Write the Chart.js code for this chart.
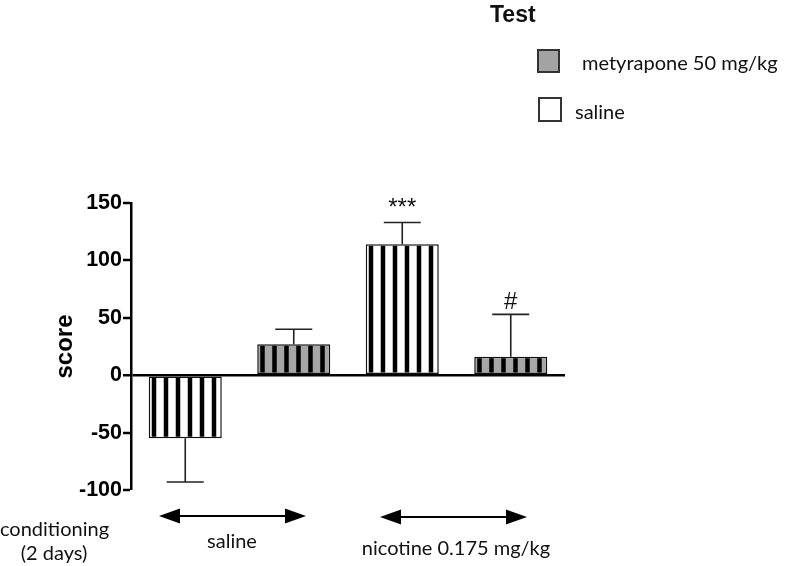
<!DOCTYPE html>
<html>
<head>
<meta charset="utf-8">
<script src="https://cdn.jsdelivr.net/npm/chart.js@4.4.1/dist/chart.umd.min.js"></script>
<style>
  html, body { margin: 0; padding: 0; background: #fff; }
  #wrap { position: relative; width: 799px; height: 566px; overflow: hidden; }
  #chart { position: absolute; left: 0; top: 0; }
  .txt { position: absolute; font-family: Lato, "Open Sans", sans-serif; font-size: 20px; color: #111; white-space: nowrap; line-height: 24px; }
  .title { position: absolute; font-family: "Liberation Sans", Arial, sans-serif; font-weight: bold; font-size: 23px; color: #111; line-height: 26px; }
  .box { position: absolute; box-sizing: border-box; border: 2px solid #333; }
  svg { position: absolute; left: 0; top: 0; }
</style>
</head>
<body>
<div id="wrap">
  <canvas id="chart" width="799" height="566"></canvas>

  <div class="title" style="left:490px;top:1px">Test</div>
  <div class="box" style="left:537px;top:49px;width:23px;height:24px;background:#a3a3a3"></div>
  <div class="txt" style="left:582px;top:50px">metyrapone 50 mg/kg</div>
  <div class="box" style="left:538px;top:97px;width:24px;height:25px;background:#fff"></div>
  <div class="txt" style="left:575px;top:99px">saline</div>

  <svg width="799" height="566">
    <g fill="#000" stroke="#000">
      <line x1="175" y1="516" x2="290" y2="516" stroke-width="2"/>
      <polygon points="159,516 180,508.5 180,523.5" stroke="none"/>
      <polygon points="306,516 285,508.5 285,523.5" stroke="none"/>
      <line x1="396" y1="517" x2="511" y2="517" stroke-width="2"/>
      <polygon points="380,517 401,509.5 401,524.5" stroke="none"/>
      <polygon points="527,517 506,509.5 506,524.5" stroke="none"/>
    </g>
  </svg>
  <div class="txt" style="left:0;top:516px;width:108px;text-align:center">conditioning<br>(2 days)</div>
  <div class="txt" style="left:182px;top:528px;width:100px;text-align:center">saline</div>
  <div class="txt" style="left:356px;top:535px;width:200px;text-align:center">nicotine 0.175 mg/kg</div>
</div>

<script>
// groups: conditioning / test treatment
const groups = ['saline / saline', 'saline / metyrapone', 'nicotine / saline', 'nicotine / metyrapone'];
const salineScores = [-55, null, 114, null];
const salineErrors = [38, null, 19, null];
const metyraponeScores = [null, 27, null, 16];
const metyraponeErrors = [null, 13, null, 37];
const marks = ['', '', '***', '#'];
const yTicks = [-100, -50, 0, 50, 100, 150];

const axisFont = { family: '"Liberation Sans", Arial, sans-serif', weight: 'bold' };

// vertical black stripes inside each bar
const stripes = {
  id: 'stripes',
  afterDatasetDraw(chart, args) {
    const ctx = chart.ctx;
    const data = chart.data.datasets[args.index].data;
    args.meta.data.forEach((bar, i) => {
      if (data[i] == null) return;
      const left = bar.x - bar.width / 2;
      const right = left + bar.width;
      const top = Math.min(bar.y, bar.base);
      const bottom = Math.max(bar.y, bar.base);
      ctx.save();
      ctx.beginPath();
      ctx.rect(left + 1.5, top + 1.5, bar.width - 3, bottom - top - 3);
      ctx.clip();
      ctx.fillStyle = '#000';
      for (let x = left + 3; x < right - 2; x += 12) ctx.fillRect(x, top, 4.5, bottom - top);
      ctx.restore();
    });
  }
};

// error bars and significance marks
const errorBars = {
  id: 'errorBars',
  afterDatasetsDraw(chart) {
    const ctx = chart.ctx;
    const y = chart.scales.y;
    chart.data.datasets.forEach((ds, di) => {
      const meta = chart.getDatasetMeta(di);
      meta.data.forEach((bar, i) => {
        const v = ds.data[i];
        if (v == null) return;
        const end = y.getPixelForValue(v + Math.sign(v) * ds.errors[i]);
        ctx.save();
        ctx.strokeStyle = '#222';
        ctx.lineWidth = 1.6;
        ctx.beginPath();
        ctx.moveTo(bar.x, bar.y);
        ctx.lineTo(bar.x, end);
        ctx.moveTo(bar.x - 18.5, end);
        ctx.lineTo(bar.x + 18.5, end);
        ctx.stroke();
        if (marks[i]) {
          ctx.fillStyle = '#111';
          ctx.font = '24px "Liberation Sans", Arial, sans-serif';
          ctx.textAlign = 'center';
          ctx.textBaseline = 'alphabetic';
          ctx.fillText(marks[i], bar.x, end - (marks[i] === '#' ? 5 : 8));
        }
        ctx.restore();
      });
    });
  }
};

new Chart(document.getElementById('chart'), {
  type: 'bar',
  data: {
    labels: groups,
    datasets: [
      {
        label: 'metyrapone 50 mg/kg',
        data: metyraponeScores,
        errors: metyraponeErrors,
        backgroundColor: '#a6a6a6',
        borderColor: '#111',
        borderWidth: 1.5,
        borderSkipped: false,
        grouped: false,
        categoryPercentage: 1,
        barPercentage: 0.673
      },
      {
        label: 'saline',
        data: salineScores,
        errors: salineErrors,
        backgroundColor: '#fff',
        borderColor: '#111',
        borderWidth: 1.5,
        borderSkipped: false,
        grouped: false,
        categoryPercentage: 1,
        barPercentage: 0.673
      }
    ]
  },
  options: {
    responsive: false,
    animation: false,
    layout: { padding: { left: 0, right: 234, top: 203, bottom: 76 } },
    plugins: { legend: { display: false }, tooltip: { enabled: false } },
    scales: {
      x: { display: false },
      y: {
        min: -100,
        max: 150,
        afterBuildTicks: axis => { axis.ticks = yTicks.map(v => ({ value: v })); },
        afterFit: axis => { axis.width = 131; },
        border: { display: true, color: '#000', width: 2.5 },
        grid: {
          drawOnChartArea: true,
          color: c => (c.tick && c.tick.value === 0 ? '#000' : 'rgba(0,0,0,0)'),
          lineWidth: c => (c.tick && c.tick.value === 0 ? 2.5 : 0),
          tickColor: '#000',
          tickWidth: 2.5,
          tickLength: 8
        },
        ticks: { color: '#000', padding: 1, font: { ...axisFont, size: 21.5 } },
        title: {
          display: true,
          text: 'score',
          color: '#000',
          padding: { top: 51, bottom: 0 },
          font: { ...axisFont, size: 24 }
        }
      }
    }
  },
  plugins: [stripes, errorBars]
});
</script>
</body>
</html>
